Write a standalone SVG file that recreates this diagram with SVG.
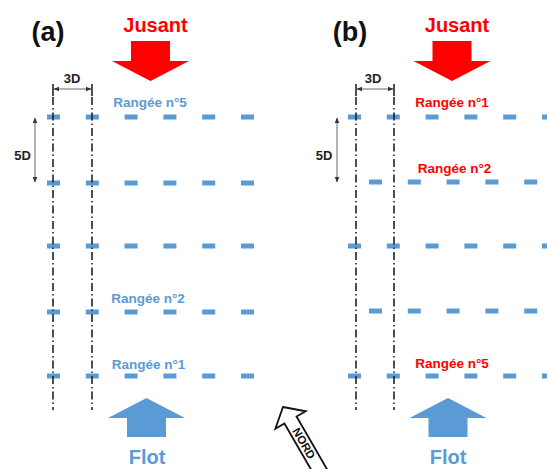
<svg xmlns="http://www.w3.org/2000/svg" width="547" height="469" viewBox="0 0 547 469">
<defs>
<marker id="ah" viewBox="0 0 10 10" refX="9" refY="5" markerWidth="6" markerHeight="6" orient="auto-start-reverse" markerUnits="userSpaceOnUse"><path d="M0,1 L10,5 L0,9 z" fill="#333"/></marker>
<style>
text{font-family:"Liberation Sans",Arial,sans-serif;font-weight:bold;text-anchor:middle}
.lbl{font-size:27px;fill:#111}
.jus{font-size:20px;fill:#ff0000}
.flot{font-size:20px;fill:#5b9bd5}
.rb{font-size:13.5px;fill:#5b9bd5}
.rr{font-size:13.5px;fill:#ff0000}
.dim{font-size:13px;fill:#222}
.row{stroke:#5b9bd5;stroke-width:5;stroke-dasharray:13 25.8;fill:none}
.axis{stroke:#222;stroke-width:1.6;stroke-dasharray:8 3 1.5 3;fill:none}
.dl{stroke:#666;stroke-width:1;fill:none}
.tick{stroke:#222;stroke-width:1.6}
.red{fill:#ff0000}
.blue{fill:#5b9bd5}
</style>
</defs>
<rect width="547" height="469" fill="#ffffff"/>

<g id="panel-a">
<g id="label-a"><text class="lbl" x="48" y="41">(a)</text></g>
<g id="jusant-a"><text class="jus" x="155.5" y="32">Jusant</text>
<polygon class="red" points="131,41 170,41 170,61 189,61 150.5,81 112,61 131,61"/></g>
<g id="flot-a"><polygon class="blue" points="146.5,398 185,418 166,418 166,437 127,437 127,418 108,418"/>
<text class="flot" x="147" y="464">Flot</text></g>
<g id="rows-a">
<line class="row" x1="47" y1="117" x2="256" y2="117"/>
<line class="row" x1="47" y1="183" x2="256" y2="183"/>
<line class="row" x1="47" y1="246" x2="256" y2="246"/>
<line class="row" x1="47" y1="312" x2="256" y2="312"/>
<line class="row" x1="47" y1="376" x2="256" y2="376"/>
</g>
<g id="axes-a">
<line class="axis" x1="53" y1="97" x2="53" y2="410"/>
<line class="axis" x1="92" y1="97" x2="92" y2="410"/>
</g>
<g id="dim3d-a">
<line class="tick" x1="53" y1="84" x2="53" y2="96"/>
<line class="tick" x1="92" y1="84" x2="92" y2="96"/>
<line class="dl" x1="54" y1="89" x2="91" y2="89" marker-start="url(#ah)" marker-end="url(#ah)"/>
<text class="dim" x="72" y="83">3D</text>
</g>
<g id="dim5d-a">
<line class="dl" x1="35" y1="118" x2="35" y2="182" marker-start="url(#ah)" marker-end="url(#ah)"/>
<text class="dim" x="22.5" y="159.5">5D</text>
</g>
<g id="labels-a">
<text class="rb" x="150" y="107">Rangée n°5</text>
<text class="rb" x="148" y="303">Rangée n°2</text>
<text class="rb" x="148.5" y="369">Rangée n°1</text>
</g>
</g>

<g id="panel-b">
<g id="label-b"><text class="lbl" x="350" y="41">(b)</text></g>
<g id="jusant-b"><text class="jus" x="457" y="32">Jusant</text>
<polygon class="red" points="432.5,41 471.5,41 471.5,61 490.5,61 452,81 413.5,61 432.5,61"/></g>
<g id="flot-b"><polygon class="blue" points="448,398 486.5,418 467.5,418 467.5,437 428.5,437 428.5,418 409.5,418"/>
<text class="flot" x="448" y="464">Flot</text></g>
<g id="rows-b">
<line class="row" x1="348" y1="117" x2="547" y2="117"/>
<line class="row" x1="369" y1="182" x2="547" y2="182"/>
<line class="row" x1="348" y1="246" x2="547" y2="246"/>
<line class="row" x1="369" y1="311" x2="547" y2="311"/>
<line class="row" x1="348" y1="376" x2="547" y2="376"/>
</g>
<g id="axes-b">
<line class="axis" x1="356" y1="97" x2="356" y2="410"/>
<line class="axis" x1="394" y1="97" x2="394" y2="410"/>
</g>
<g id="dim3d-b">
<line class="tick" x1="356" y1="84" x2="356" y2="96"/>
<line class="tick" x1="394" y1="84" x2="394" y2="96"/>
<line class="dl" x1="357" y1="89" x2="393" y2="89" marker-start="url(#ah)" marker-end="url(#ah)"/>
<text class="dim" x="373" y="83">3D</text>
</g>
<g id="dim5d-b">
<line class="dl" x1="337" y1="118" x2="337" y2="182" marker-start="url(#ah)" marker-end="url(#ah)"/>
<text class="dim" x="324" y="159.5">5D</text>
</g>
<g id="labels-b">
<text class="rr" x="452" y="107">Rangée n°1</text>
<text class="rr" x="454.5" y="173">Rangée n°2</text>
<text class="rr" x="452" y="368">Rangée n°5</text>
</g>
</g>

<g id="nord" transform="translate(283,407) rotate(-30)">
<polygon points="0,0 17.5,15 7,15 7,80 -7,80 -7,15 -17.5,15" fill="#ffffff" stroke="#111" stroke-width="1.8" stroke-linejoin="miter"/>
<text transform="translate(0,42) rotate(90)" x="0" y="4" style="font-size:11.5px;fill:#111">NORD</text>
</g>
</svg>
